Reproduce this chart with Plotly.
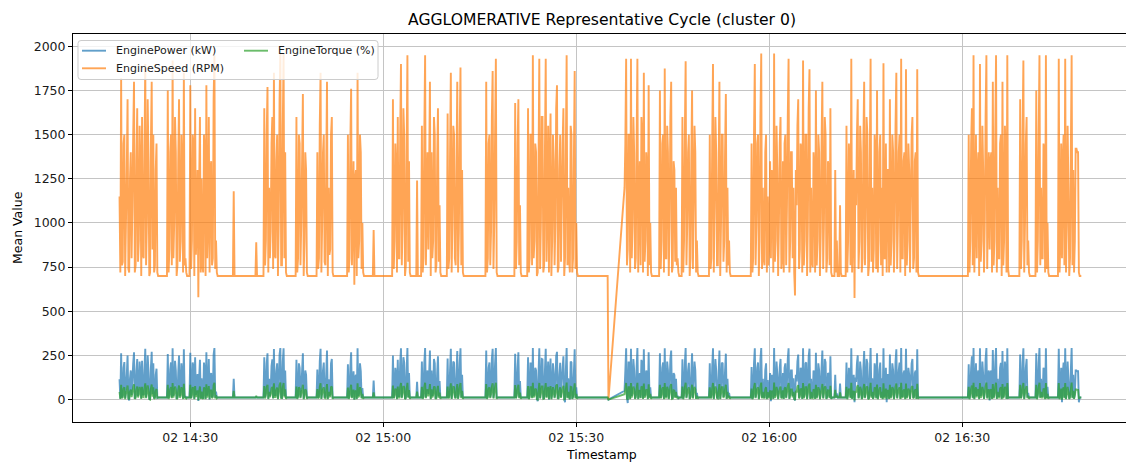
import pandas as pd
import plotly.graph_objects as go

# ---------------------------------------------------------------------------
# Representative cycle, 7.5 s samples; logging gap between 15:35:00 and 15:37:30
# ---------------------------------------------------------------------------
times_a = pd.date_range("2024-01-02 14:19:00", periods=609, freq="7500ms")
times_b = pd.date_range("2024-01-02 15:37:30", periods=569, freq="7500ms")
timestamps = list(times_a) + list(times_b)

engine_speed = [
    # ---- 14:19:00 -> 15:35:00 ----
    1150, 720, 1820, 760, 780, 1450, 1500, 700, 1000, 1300, 1700, 740,
    720, 1250, 1400, 800, 1100, 1500, 1800, 720, 760, 1350, 1650, 780,
    900, 1550, 1300, 700, 1600, 820, 800, 1400, 1900, 760, 1000, 1700,
    1350, 700, 720, 1450, 1800, 850, 1500, 720, 760, 1300, 1450, 720,
    700, 700, 700, 700, 700, 700, 700, 700, 700, 700, 700, 700,
    1750, 720, 850, 1400, 1500, 760, 1920, 800, 1000, 1600, 1400, 700,
    760, 1350, 1700, 780, 900, 1500, 1300, 720, 1850, 760, 800, 720,
    700, 700, 700, 700,
    1780, 740, 900, 1500, 1450, 700, 1650, 820, 1000, 1300, 580, 1200,
    1600, 720, 1250, 760, 720, 1500, 1400, 700, 1780, 800, 1000, 1600,
    720, 1300, 1350, 760, 800, 1700, 1950, 740, 900, 720,
    700, 700, 700, 700, 700, 700, 700, 700, 700, 700,
    700, 700, 700, 700, 700, 700, 700, 700, 700, 700,
    1180, 700, 700, 700, 700, 700, 700, 700, 700, 700,
    700, 700, 700, 700, 700, 700, 700, 700, 700, 700,
    700, 700, 700, 700, 700, 700, 700, 700, 890, 700,
    700, 700, 700, 700, 700, 700, 700, 700,
    1650, 760, 900, 1500, 1770, 720, 1200, 800, 950, 1450, 1600, 740, 1850, 820,
    800, 1350, 1500, 700, 1000, 1700, 1960, 760, 760, 1550, 1960, 800, 1400, 720,
    700, 700, 700, 700, 700, 700, 700, 700, 700, 700, 700, 700,
    1600, 720, 800, 1500, 1450, 760, 1000, 1350, 1730, 700, 900, 1400, 1300, 720,
    700, 700, 700, 700, 700, 700, 700, 700, 700, 700, 700, 700,
    1400, 740, 800, 1550, 1850, 720, 1000, 1400, 1500, 780,
    760, 1300, 1800, 700, 1200, 820, 850, 1500, 1600, 720,
    700, 700, 700, 700, 700, 700, 700, 700, 700, 700, 700, 700, 700, 700, 700, 700, 700, 700,
    1500, 720, 800, 1450, 1760, 760, 1000, 1350, 650, 1250,
    1300, 700, 1850, 800, 900, 1500, 1400, 740, 1000, 720,
    700, 700, 700, 700, 700, 700, 700, 700, 700, 700,
    700, 700, 960, 700, 700, 700, 700, 700, 700, 700,
    700, 700, 700, 700, 700, 700, 700, 700, 700, 700,
    700, 700, 700, 700, 700, 700,
    1700, 740, 900, 1450, 1300, 720, 1600, 800, 800, 1500, 1900,
    760, 1000, 1650, 1500, 700, 760, 1400, 1950, 780, 1350, 720,
    700, 700, 700, 700, 700, 700, 700, 700, 1240, 700, 700, 700, 700, 700,
    1550, 720, 800, 1500, 1950, 760, 1100, 1400, 850, 1300, 1800, 700,
    1400, 800, 900, 1600, 1500, 720, 760, 1350, 1650, 780, 1100, 720,
    700, 700, 700, 700, 700, 700, 700, 700,
    1620, 740, 800, 1400, 1850, 720, 1000, 1550, 1500, 800,
    760, 1300, 1800, 720, 950, 1500, 1880, 760, 1300, 720,
    700, 700, 700, 700, 700, 700, 700, 700, 700, 700,
    700, 700, 700, 700, 700, 700, 700, 700, 700, 700,
    700, 700, 700, 700, 700, 700, 700, 700,
    1800, 720, 800, 1450, 1500, 760, 950, 1600, 1860, 740, 1000, 1500, 1930, 720,
    700, 700, 700, 700, 700, 700, 700, 700, 700, 700,
    700, 700, 700, 700, 700, 700, 700, 700, 700, 700, 700, 700,
    1680, 740, 900, 1450, 1700, 760, 1100, 720,
    700, 700, 700, 700, 700, 700, 700, 700,
    1650, 720, 800, 1500, 1500, 760, 1950, 800, 900, 1450, 1400, 700, 720, 1300, 1930, 740, 1000, 1600, 1600, 720,
    760, 1400, 1930, 780, 1100, 1550, 720, 1350, 1620, 700, 900, 1500, 1350, 760, 1000, 1650, 1780, 720, 750, 1300,
    1500, 780, 1100, 1450, 1650, 700, 800, 1400, 1950, 760, 1200, 800, 720, 1550, 1500, 720, 800, 1350, 1860, 740,
    1000, 720,
    700, 700, 700, 700, 700, 700, 700, 700, 700, 700,
    700, 700, 700, 700, 700, 700, 700, 700, 700, 700,
    700, 700, 700, 700, 700, 700, 700, 700, 700, 700,
    700, 700, 700, 700, 700, 700, 700, 700,
    0,
    # ---- 15:37:30 -> 16:48:30 ----
    1200, 1450, 1930, 760, 850, 1500, 1500, 720, 1930, 800, 1000, 1600, 1400, 740, 800, 1450, 1930, 720,
    1100, 1350, 760, 1600, 1500, 720, 1850, 780, 900, 1400, 1300, 700, 1780, 760, 1000, 720,
    700, 700, 700, 700, 700, 700, 700, 700, 700, 700,
    1750, 740, 900, 1450, 1500, 720, 1875, 800, 800, 1550, 1400, 700,
    1000, 1600, 1800, 720, 760, 1350, 1300, 780, 1200, 760, 800, 720,
    700, 700, 700, 700,
    1600, 720, 900, 1500, 1915, 760, 1000, 1400, 1500, 700,
    800, 1350, 1750, 740, 1100, 1550, 1400, 720, 900, 720,
    700, 700, 700, 700, 700, 700, 700, 700, 700, 700, 700, 700, 700, 700,
    1500, 740, 800, 1450, 1900, 720, 1100, 1600, 1400, 760, 760, 1300, 1800,
    700, 1000, 1500, 1500, 780, 900, 1400, 1730, 720, 1200, 760, 900, 720,
    700, 700, 700, 700, 700, 700, 700, 700, 700, 700, 700, 700, 700,
    700, 700, 700, 700, 700, 700, 700, 700, 700, 700, 700, 700, 700,
    1450, 720, 800, 1500, 1900, 760, 1000, 1450, 1500, 700, 900, 1600, 1960, 740, 1200, 800, 760, 1400, 1500, 720,
    1150, 760, 900, 1350, 800, 1300, 1200, 720, 1960, 780, 900, 1550, 1300, 700, 1000, 1450, 1600, 740, 800, 1350,
    720, 1450, 1500, 760, 1100, 1600, 1930, 720, 900, 1400, 1400, 800, 1200, 720, 590, 1300, 1100, 1550, 1700, 740,
    850, 1450, 1400, 720, 1920, 760, 900, 1500, 1500, 700, 1000, 1650, 1870, 720, 1200, 780, 750, 1400, 1300, 720,
    1750, 760, 900, 1500, 1400, 700, 950, 1450, 1800, 740, 1000, 1600, 1500, 720, 800, 1350, 1300, 760, 1650, 720, 700, 700,
    700, 700, 1300, 720, 900, 700, 700, 700, 1100, 720, 700, 700, 700, 700, 700, 700,
    1550, 720, 900, 1450, 1300, 760, 1930, 720, 1000, 1300, 575, 1250, 1100, 1500, 1700, 740, 900, 1550, 1400, 720,
    800, 1450, 1800, 760, 1000, 1600, 1500, 700, 760, 1350, 1930, 780, 1200, 720, 850, 1500, 1400, 740, 1750, 720,
    900, 1400, 1500, 760, 1200, 700, 1904, 800, 800, 1450, 720, 1300, 1300, 720, 1700, 760, 900, 1500, 1400, 720,
    950, 1550, 1850, 740, 1000, 1400, 1500, 720, 1930, 800, 800, 1350, 1400, 700, 1870, 760, 900, 1450, 1300, 720,
    1100, 1500, 1600, 740, 800, 1350, 1400, 720, 1870, 720,
    700, 700, 700, 700, 700, 700, 700, 700, 700, 700,
    700, 700, 700, 700, 700, 700, 700, 700, 700, 700,
    700, 700, 700, 700, 700, 700, 700, 700, 700, 700,
    700, 700, 700, 700, 700, 700, 700, 700, 700, 700,
    700, 700, 700, 700, 700, 700, 700, 700, 700, 700,
    700, 700, 700, 700, 700, 700, 700, 700, 700, 700,
    700, 700,
    1500, 720, 900, 1450, 1650, 760, 1950, 720, 1000, 1500, 800, 1300, 1400, 700, 1900, 780, 900, 1550, 1300, 720,
    1000, 1600, 1950, 740, 1100, 1400, 850, 1350, 1400, 720, 1800, 760, 900, 1500, 1950, 720, 1200, 800, 800, 1450,
    1500, 700, 1800, 760, 900, 1550, 1400, 720, 1950, 740,
    700, 700, 700, 700, 700, 700, 700, 700, 700, 700, 700, 700, 700, 700,
    1700, 740, 900, 1500, 1920, 720, 1000, 1450, 1600, 760, 900, 720,
    700, 700, 700, 700, 700, 700, 700, 700,
    1750, 720, 900, 1500, 1950, 760, 1200, 800, 800, 1450, 1400, 720, 1950, 740, 1000, 720,
    700, 700, 700, 700, 700, 700, 700, 700, 700, 700, 700, 700,
    1930, 720, 900, 1450, 800, 1350, 1500, 760, 1930, 720, 1000, 1550, 1200,
    700, 800, 1400, 1950, 760, 1300, 720, 900, 1420, 1420, 1400, 1400, 720,
    700, 700, 700,
]

engine_power = [
    # ---- 14:19:00 -> 15:35:00 ----
    115, 5, 262, 12, 22, 180, 212, 8, 62, 140, 250, 10,
    -5, 120, 165, 25, 108, 205, 268, 5, 18, 160, 230, 20,
    55, 215, 150, 8, 220, 30, 25, 170, 288, 12, 70, 250,
    158, 5, 0, 180, 270, 30, 205, 8, 15, 140, 175, 10,
    12, 12, 12, 12, 12, 12, 12, 12, 12, 12, 12, 12,
    258, 8, 30, 170, 210, 12, 290, 20, 72, 220, 165, 5,
    12, 150, 250, 18, 40, 205, 140, 6, 285, 12, 20, 10,
    12, 12, 12, 12,
    265, 10, 40, 210, 180, 5, 240, 25, 75, 145, -8, 120,
    225, 6, 120, 14, 5, 210, 165, 5, 268, 22, 70, 230,
    0, 140, 150, 12, 22, 255, 292, 10, 45, 12,
    12, 12, 12, 12, 12, 12, 12, 12, 12, 12,
    12, 12, 12, 12, 12, 12, 12, 12, 12, 12,
    118, 12, 12, 12, 12, 12, 12, 12, 12, 12,
    12, 12, 12, 12, 12, 12, 12, 12, 12, 12,
    12, 12, 12, 12, 12, 12, 12, 12, 15, 12,
    12, 12, 12, 12, 12, 12, 12, 12,
    240, 12, 42, 205, 262, 5, 118, 20, 55, 190, 228, 8, 286, 25,
    24, 160, 205, 5, 70, 255, 292, 12, 10, 215, 290, 20, 165, 8,
    12, 12, 12, 12, 12, 12, 12, 12, 12, 12, 12, 12,
    225, 6, 22, 205, 180, 12, 68, 160, 262, 5, 38, 165, 140, 8,
    12, 12, 12, 12, 12, 12, 12, 12, 12, 12, 12, 12,
    170, 10, 20, 215, 288, 5, 72, 165, 210, 15,
    12, 140, 278, 5, 115, 22, 30, 205, 230, 8,
    12, 12, 12, 12, 12, 12, 12, 12, 12, 12, 12, 12, 12, 12, 12, 12, 12, 12,
    200, 6, 22, 180, 268, 12, 70, 160, 0, 125,
    140, 5, 290, 20, 38, 205, 160, 10, 65, 8,
    12, 12, 12, 12, 12, 12, 12, 12, 12, 12,
    12, 12, 108, 12, 12, 12, 12, 12, 12, 12,
    12, 12, 12, 12, 12, 12, 12, 12, 12, 12,
    12, 12, 12, 12, 12, 12,
    250, 10, 40, 180, 140, 5, 225, 20, 20, 205, 290,
    12, 72, 240, 210, 5, 10, 165, 292, 15, 150, 8,
    12, 12, 12, 12, 12, 12, 12, 12, 100, 12, 12, 12, 12, 12,
    215, 6, 20, 205, 292, 12, 100, 165, 30, 140, 278, 5,
    165, 20, 40, 230, 205, 6, 12, 150, 245, 18, 105, 8,
    12, 12, 12, 12, 12, 12, 12, 12,
    232, 10, 22, 165, 288, 5, 72, 215, 208, 20,
    10, 140, 275, 6, 55, 205, 290, 12, 140, 8,
    12, 12, 12, 12, 12, 12, 12, 12, 12, 12,
    12, 12, 12, 12, 12, 12, 12, 12, 12, 12,
    12, 12, 12, 12, 12, 12, 12, 12,
    278, 6, 25, 180, 210, 12, 50, 230, 288, 10, 72, 205, 292, 8,
    12, 12, 12, 12, 12, 12, 12, 12, 12, 12,
    12, 12, 12, 12, 12, 12, 12, 12, 12, 12, 12, 12,
    260, 10, 40, 180, 268, 12, 105, 8,
    12, 12, 12, 12, 12, 12, 12, 12,
    240, 5, 22, 205, 205, 12, 292, 20, 40, 180, 165, 5, -10, 140, 290, 10, 70, 230, 228, 5,
    8, 165, 288, 15, 102, 215, 0, 150, 232, 5, 42, 205, 150, 12, 68, 245, 270, 6, 10, 140,
    208, 15, 105, 180, 245, 5, -15, 165, 292, 12, 120, 20, 2, 215, 210, 5, 20, 150, 285, 10,
    70, 8,
    12, 12, 12, 12, 12, 12, 12, 12, 12, 12,
    12, 12, 12, 12, 12, 12, 12, 12, 12, 12,
    12, 12, 12, 12, 12, 12, 12, 12, 12, 12,
    12, 12, 12, 12, 12, 12, 12, 12,
    0,
    # ---- 15:37:30 -> 16:48:30 ----
    50, 165, 290, 10, -20, 210, 210, 5, 288, 20, 75, 230, 165, 6, 22, 180, 292, 5,
    100, 150, 10, 225, 205, 6, 285, 18, 40, 165, 140, 5, 268, 12, 70, 8,
    12, 12, 12, 12, 12, 12, 12, 12, 12, 12,
    262, 10, 40, 180, 210, 5, 290, 20, 20, 215, 165, 5,
    70, 230, 278, 6, 10, 150, 140, 15, 118, 12, 22, 8,
    12, 12, 12, 12,
    228, 5, 40, 205, 292, 12, 72, 165, 208, 5,
    20, 150, 262, 10, 105, 215, 165, 5, 38, 8,
    12, 12, 12, 12, 12, 12, 12, 12, 12, 12, 12, 12, 12, 12,
    205, 10, 22, 180, 290, 5, 100, 230, 165, 12, 10, 140, 278,
    5, 70, 205, 208, 15, 40, 165, 260, 5, 118, 12, 38, 8,
    12, 12, 12, 12, 12, 12, 12, 12, 12, 12, 12, 12, 12,
    12, 12, 12, 12, 12, 12, 12, 12, 12, 12, 12, 12, 12,
    185, 5, 20, 205, 290, 12, 72, 180, 210, 5, 40, 230, 292, 10, 118, 20, 10, 165, 205, 5,
    110, 12, 38, 150, -10, 140, 115, 5, 292, 18, 40, 215, 145, 5, 70, 180, 230, 10, 22, 150,
    5, 180, 205, 12, 100, 230, 290, 5, 42, 165, 165, 20, 120, 5, -5, 140, 102, 215, 255, 10,
    30, 180, 165, 5, 290, 12, 40, 205, 210, 5, 72, 245, 288, 5, 118, 18, 10, 165, 145, 5,
    265, 12, 45, 205, 165, 5, 55, 180, 278, 10, 70, 230, 210, 5, 20, 150, 145, 12, 245, 5, 12, 12,
    12, 12, 140, 12, 35, 12, 12, 12, 90, 12, 12, 12, 12, 12, 12, 12,
    210, 5, 40, 180, 145, 12, 290, 5, 72, 140, -15, 125, 100, 205, 250, 10, 40, 215, 165, 5,
    20, 180, 275, 12, 70, 230, 205, 5, 10, 150, 292, 18, 120, 5, 30, 205, 165, 10, 262, 5,
    40, 165, 210, 12, 120, 5, 290, 20, 22, 180, -15, 140, 140, 5, 255, 12, 42, 205, 165, 5,
    50, 215, 285, 10, 72, 165, 210, 5, 292, 20, 20, 150, 165, 5, 288, 12, 40, 180, 140, 5,
    95, 205, 230, 10, 20, 150, 165, 5, 285, 8,
    12, 12, 12, 12, 12, 12, 12, 12, 12, 12,
    12, 12, 12, 12, 12, 12, 12, 12, 12, 12,
    12, 12, 12, 12, 12, 12, 12, 12, 12, 12,
    12, 12, 12, 12, 12, 12, 12, 12, 12, 12,
    12, 12, 12, 12, 12, 12, 12, 12, 12, 12,
    12, 12, 12, 12, 12, 12, 12, 12, 12, 12,
    12, 12,
    200, 5, 40, 180, 245, 12, 292, 5, 75, 205, 20, 140, 165, 5, 290, 20, 40, 215, 140, 5,
    72, 230, 292, 10, 100, 165, -5, 150, 165, 5, 280, 12, 40, 205, 292, 5, 118, 20, 20, 180,
    208, 5, 275, 12, 40, 215, 165, 5, 290, 10,
    12, 12, 12, 12, 12, 12, 12, 12, 12, 12, 12, 12, 12, 12,
    255, 10, 40, 205, 290, 5, 72, 180, 230, 12, 38, 8,
    12, 12, 12, 12, 12, 12, 12, 12,
    262, 5, 40, 205, 292, 12, 118, 20, 20, 180, 165, 5, 290, 10, 72, 8,
    12, 12, 12, 12, 12, 12, 12, 12, 12, 12, 12, 12,
    288, 5, 40, 180, -15, 150, 210, 12, 290, 5, 72, 215, 118,
    5, 22, 165, 292, 12, 140, 5, 38, 165, 165, 160, 160, -15,
    12, 12, 12,
]

engine_torque = [
    # ---- 14:19:00 -> 15:35:00 ----
    44, 4, 84, 8, 12, 62, 70, 2, 32, 50, 80, 6,
    2, 46, 56, 14, 40, 70, 86, 3, 10, 55, 74, 12,
    28, 72, 52, 4, 72, 16, 14, 60, 92, 8, 32, 80,
    55, 2, 0, 62, 85, 16, 70, 4, 8, 50, 60, 6,
    12, 12, 12, 12, 12, 12, 12, 12, 12, 12, 12, 12,
    83, 4, 16, 58, 70, 8, 94, 12, 34, 74, 58, 2,
    8, 52, 80, 10, 22, 70, 50, 3, 90, 8, 12, 6,
    12, 12, 12, 12,
    84, 6, 22, 70, 62, 2, 76, 14, 34, 52, -4, 44,
    74, 4, 45, 8, 4, 70, 56, 2, 86, 12, 32, 76,
    2, 52, 52, 8, 14, 82, 95, 6, 25, 8,
    12, 12, 12, 12, 12, 12, 12, 12, 12, 12,
    12, 12, 12, 12, 12, 12, 12, 12, 12, 12,
    50, 12, 12, 12, 12, 12, 12, 12, 12, 12,
    12, 12, 12, 12, 12, 12, 12, 12, 12, 12,
    12, 12, 12, 12, 12, 12, 12, 12, 20, 12,
    12, 12, 12, 12, 12, 12, 12, 12,
    76, 6, 24, 70, 84, 3, 44, 14, 28, 64, 72, 6, 92, 14,
    14, 56, 68, 2, 34, 82, 96, 8, 8, 72, 94, 12, 58, 4,
    12, 12, 12, 12, 12, 12, 12, 12, 12, 12, 12, 12,
    74, 4, 14, 70, 62, 8, 32, 56, 84, 2, 22, 58, 50, 4,
    12, 12, 12, 12, 12, 12, 12, 12, 12, 12, 12, 12,
    60, 6, 12, 72, 92, 4, 34, 58, 70, 10,
    8, 50, 88, 2, 44, 14, 18, 70, 74, 4,
    12, 12, 12, 12, 12, 12, 12, 12, 12, 12, 12, 12, 12, 12, 12, 12, 12, 12,
    68, 4, 14, 62, 84, 8, 32, 56, 0, 46,
    50, 2, 92, 12, 22, 70, 56, 6, 32, 4,
    12, 12, 12, 12, 12, 12, 12, 12, 12, 12,
    12, 12, 40, 12, 12, 12, 12, 12, 12, 12,
    12, 12, 12, 12, 12, 12, 12, 12, 12, 12,
    12, 12, 12, 12, 12, 12,
    80, 6, 22, 62, 50, 2, 74, 12, 12, 70, 94,
    8, 34, 76, 70, 2, 8, 58, 95, 10, 54, 4,
    12, 12, 12, 12, 12, 12, 12, 12, 45, 12, 12, 12, 12, 12,
    72, 4, 14, 70, 95, 8, 40, 58, 18, 50, 88, 2,
    58, 12, 24, 74, 70, 4, 8, 52, 78, 10, 40, 4,
    12, 12, 12, 12, 12, 12, 12, 12,
    74, 6, 12, 58, 92, 4, 34, 72, 70, 12,
    6, 50, 88, 4, 28, 70, 94, 8, 50, 4,
    12, 12, 12, 12, 12, 12, 12, 12, 12, 12,
    12, 12, 12, 12, 12, 12, 12, 12, 12, 12,
    12, 12, 12, 12, 12, 12, 12, 12,
    88, 4, 14, 62, 70, 8, 28, 74, 92, 6, 34, 70, 95, 4,
    12, 12, 12, 12, 12, 12, 12, 12, 12, 12,
    12, 12, 12, 12, 12, 12, 12, 12, 12, 12, 12, 12,
    82, 6, 22, 62, 84, 8, 40, 4,
    12, 12, 12, 12, 12, 12, 12, 12,
    76, 2, 12, 70, 70, 8, 95, 12, 22, 62, 56, 2, 0, 50, 94, 6, 32, 74, 74, 4,
    6, 58, 93, 10, 40, 72, 2, 52, 76, 2, 24, 70, 52, 8, 32, 78, 86, 4, 8, 50,
    70, 10, 40, 62, 78, 2, 4, 58, 96, 8, 44, 12, 2, 72, 70, 4, 14, 52, 92, 6,
    32, 4,
    12, 12, 12, 12, 12, 12, 12, 12, 12, 12,
    12, 12, 12, 12, 12, 12, 12, 12, 12, 12,
    12, 12, 12, 12, 12, 12, 12, 12, 12, 12,
    12, 12, 12, 12, 12, 12, 12, 12,
    0,
    # ---- 15:37:30 -> 16:48:30 ----
    30, 58, 94, 6, 0, 70, 70, 2, 93, 12, 34, 74, 58, 4, 12, 62, 95, 2,
    40, 54, 8, 74, 70, 4, 91, 10, 24, 58, 50, 2, 86, 8, 32, 4,
    12, 12, 12, 12, 12, 12, 12, 12, 12, 12,
    84, 6, 22, 62, 70, 2, 93, 12, 12, 72, 58, 2,
    32, 74, 88, 4, 6, 52, 50, 10, 44, 8, 12, 4,
    12, 12, 12, 12,
    74, 2, 22, 70, 95, 8, 34, 58, 70, 2,
    12, 52, 84, 6, 40, 72, 58, 4, 22, 4,
    12, 12, 12, 12, 12, 12, 12, 12, 12, 12, 12, 12, 12, 12,
    70, 6, 12, 62, 94, 2, 40, 74, 58, 8, 6, 50, 88,
    2, 32, 70, 70, 10, 22, 58, 84, 4, 44, 8, 22, 4,
    12, 12, 12, 12, 12, 12, 12, 12, 12, 12, 12, 12, 12,
    12, 12, 12, 12, 12, 12, 12, 12, 12, 12, 12, 12, 12,
    62, 2, 12, 70, 94, 8, 34, 62, 70, 2, 22, 74, 96, 6, 44, 12, 6, 58, 70, 2,
    42, 8, 22, 52, 0, 50, 44, 4, 96, 10, 22, 72, 52, 2, 32, 62, 74, 6, 12, 52,
    4, 62, 70, 8, 40, 74, 94, 4, 24, 58, 58, 12, 44, 4, -3, 50, 40, 72, 82, 6,
    16, 62, 58, 4, 93, 8, 22, 70, 70, 2, 34, 78, 91, 4, 44, 10, 8, 58, 52, 4,
    84, 8, 24, 70, 56, 2, 28, 62, 88, 6, 32, 74, 70, 4, 12, 52, 50, 8, 78, 4, 12, 12,
    12, 12, 55, 12, 22, 12, 12, 12, 40, 12, 12, 12, 12, 12, 12, 12,
    72, 2, 22, 62, 52, 8, 95, 4, 34, 50, -5, 46, 40, 70, 82, 6, 22, 72, 58, 2,
    12, 62, 88, 8, 32, 74, 70, 2, 6, 52, 95, 10, 44, 4, 16, 70, 58, 6, 85, 2,
    24, 58, 70, 8, 44, 2, 92, 12, 12, 62, 2, 50, 50, 4, 84, 8, 22, 70, 58, 2,
    28, 72, 91, 6, 34, 58, 70, 4, 95, 12, 14, 52, 56, 2, 91, 8, 22, 62, 50, 4,
    42, 70, 76, 6, 12, 52, 58, 4, 90, 4,
    12, 12, 12, 12, 12, 12, 12, 12, 12, 12,
    12, 12, 12, 12, 12, 12, 12, 12, 12, 12,
    12, 12, 12, 12, 12, 12, 12, 12, 12, 12,
    12, 12, 12, 12, 12, 12, 12, 12, 12, 12,
    12, 12, 12, 12, 12, 12, 12, 12, 12, 12,
    12, 12, 12, 12, 12, 12, 12, 12, 12, 12,
    12, 12,
    72, 2, 22, 62, 80, 8, 95, 2, 34, 70, 12, 50, 58, 2, 94, 10, 22, 72, 50, 4,
    32, 74, 96, 6, 40, 58, 0, 52, 58, 4, 88, 8, 24, 70, 95, 4, 44, 12, 12, 62,
    70, 2, 88, 8, 22, 72, 58, 4, 93, 6,
    12, 12, 12, 12, 12, 12, 12, 12, 12, 12, 12, 12, 12, 12,
    84, 6, 22, 70, 94, 2, 34, 62, 76, 8, 22, 4,
    12, 12, 12, 12, 12, 12, 12, 12,
    84, 2, 22, 70, 95, 8, 44, 12, 12, 62, 58, 2, 94, 6, 32, 4,
    12, 12, 12, 12, 12, 12, 12, 12, 12, 12, 12, 12,
    93, 2, 22, 62, 0, 54, 70, 8, 94, 2, 34, 72, 44,
    2, 12, 58, 96, 8, 50, 4, 22, 58, 58, 55, 55, 4,
    12, 12, 12,
]

assert len(engine_speed) == len(engine_power) == len(engine_torque) == len(timestamps), (
    len(engine_speed), len(engine_power), len(engine_torque), len(timestamps))

series = [
    ("EnginePower (kW)", engine_power, "#1f77b4"),
    ("EngineSpeed (RPM)", engine_speed, "#ff7f0e"),
    ("EngineTorque (%)", engine_torque, "#2ca02c"),
]

y_ticks = [0, 250, 500, 750, 1000, 1250, 1500, 1750, 2000]
x_ticks = ["2024-01-02 14:30", "2024-01-02 15:00", "2024-01-02 15:30",
           "2024-01-02 16:00", "2024-01-02 16:30"]

FONT = "DejaVu Sans"
LINE_W = 1.9
W, H = 1126, 462
PL, PR, PT, PB = 73, 1126, 34, 422  # plot area in page pixels


def px(x):
    return (x - PL) / (PR - PL)


def py(y):
    return (PB - y) / (PB - PT)


fig = go.Figure()
for name, values, color in series:
    fig.add_trace(go.Scatter(
        x=timestamps, y=values, mode="lines", name=name,
        line=dict(color=color, width=LINE_W, simplify=False), opacity=0.7,
        showlegend=False,
    ))

axis_common = dict(
    showline=True, linecolor="#000000", linewidth=1,
    ticks="outside", ticklen=4, tickwidth=1, tickcolor="#000000",
    showgrid=True, gridcolor="#c4c4c4", gridwidth=1,
    zeroline=False,
    tickfont=dict(family=FONT, size=12.5, color="#1a1a1a"),
)

fig.update_xaxes(
    **axis_common,
    type="date",
    range=["2024-01-02 14:11:46", "2024-01-02 16:55:27"],
    tickvals=x_ticks, tickformat="%d %H:%M",
    mirror=True,
)
fig.update_yaxes(
    **axis_common,
    range=[-127, 2070],
    tickvals=y_ticks, tickformat="d",
)


# legend box drawn by hand (two columns)
def rounded_rect(x0, y0, x1, y1, r):
    X = lambda v: f"{px(v):.6f}"
    Y = lambda v: f"{py(v):.6f}"
    return (f"M {X(x0 + r)},{Y(y0)} L {X(x1 - r)},{Y(y0)} Q {X(x1)},{Y(y0)} {X(x1)},{Y(y0 + r)} "
            f"L {X(x1)},{Y(y1 - r)} Q {X(x1)},{Y(y1)} {X(x1 - r)},{Y(y1)} "
            f"L {X(x0 + r)},{Y(y1)} Q {X(x0)},{Y(y1)} {X(x0)},{Y(y1 - r)} "
            f"L {X(x0)},{Y(y0 + r)} Q {X(x0)},{Y(y0)} {X(x0 + r)},{Y(y0)} Z")


shapes = [dict(
    type="path", xref="paper", yref="paper", layer="above",
    path=rounded_rect(78, 40.5, 378, 79.5, 3),
    fillcolor="rgba(255,255,255,0.8)", line=dict(color="#cccccc", width=1),
)]
annotations = []
legend_slots = [(82, 50.7), (82, 68.3), (244, 50.7)]
for (name, _, color), (lx, ly) in zip(series, legend_slots):
    shapes.append(dict(
        type="line", xref="paper", yref="paper", layer="above",
        x0=px(lx), x1=px(lx + 24), y0=py(ly), y1=py(ly),
        line=dict(color=color, width=LINE_W), opacity=0.7,
    ))
    annotations.append(dict(
        xref="paper", yref="paper", x=px(lx + 32), y=py(ly),
        xanchor="left", yanchor="middle", showarrow=False, text=name,
        font=dict(family=FONT, size=11, color="#1a1a1a"),
    ))

# title and axis labels
annotations += [
    dict(xref="paper", yref="paper", x=px(602), y=py(20), xanchor="center", yanchor="middle",
         showarrow=False, text="AGGLOMERATIVE Representative Cycle (cluster 0)",
         font=dict(family=FONT, size=15.6, color="#000000")),
    dict(xref="paper", yref="paper", x=px(601), y=py(454), xanchor="center", yanchor="middle",
         showarrow=False, text="Timestamp",
         font=dict(family=FONT, size=12.5, color="#000000")),
    dict(xref="paper", yref="paper", x=px(17), y=py(228), xanchor="center", yanchor="middle",
         showarrow=False, text="Mean Value", textangle=-90,
         font=dict(family=FONT, size=12.5, color="#000000")),
]

fig.update_layout(
    width=W, height=H,
    margin=dict(l=PL, r=W - PR, t=PT, b=H - PB, pad=0),
    paper_bgcolor="#ffffff", plot_bgcolor="#ffffff",
    showlegend=False,
    shapes=shapes, annotations=annotations,
    font=dict(family=FONT),
)

fig.write_html("out.html")
